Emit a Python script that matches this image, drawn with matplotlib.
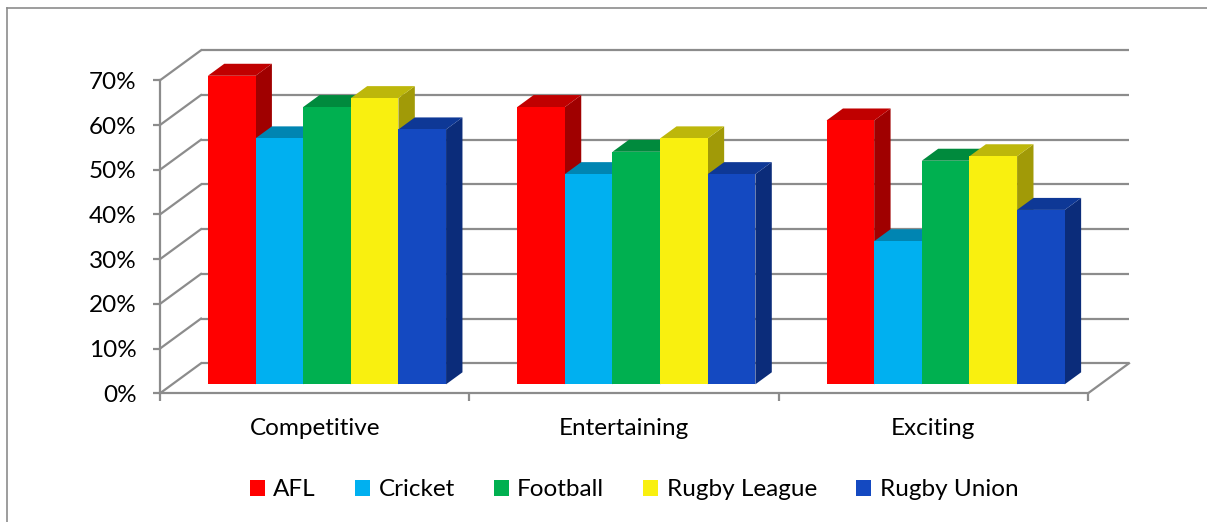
import matplotlib
matplotlib.use("Agg")
import matplotlib.pyplot as plt
from matplotlib.patches import Polygon, Patch
from matplotlib.lines import Line2D
from matplotlib.ticker import FuncFormatter

plt.rcParams['font.family'] = ['Lato', 'DejaVu Sans']

categories = ["Competitive", "Entertaining", "Exciting"]
series = ["AFL", "Cricket", "Football", "Rugby League", "Rugby Union"]
afl = [69, 62, 59]
cricket = [55, 47, 32]
football = [62, 52, 50]
rugby_league = [64, 55, 51]
rugby_union = [57, 47, 39]
values = [afl, cricket, football, rugby_league, rugby_union]
yticks = [0, 10, 20, 30, 40, 50, 60, 70]

front_colors = ["#FF0000", "#00B0F0", "#00B050", "#F9F00F", "#1449C1"]
top_colors = ["#C00000", "#0085B2", "#008A3D", "#BDB70B", "#0E3896"]
side_colors = ["#A00000", "#00719A", "#006F31", "#A19A07", "#0B2C7A"]
grid_c = "#8C8C8C"
FS = 17.5

W, H = 1207, 522
fig = plt.figure(figsize=(W / 100, H / 100), dpi=100)
x0px, y0px, x1px, y70px = 160, 393.3, 1088, 80.3
ax = fig.add_axes([x0px / W, (H - y0px) / H, (x1px - x0px) / W, (y0px - y70px) / H])
ax.set_xlim(0, 3)
ax.set_ylim(0, 70)
ax.patch.set_alpha(0)

pxx = (x1px - x0px) / 3.0
pxy = (y0px - y70px) / 70.0
DX = 41 / pxx
DY = 30 / pxy

# walls / gridlines
for v in yticks:
    ax.plot([DX, 3 + DX], [v + DY, v + DY], color=grid_c, lw=1.6, clip_on=False, zorder=1, solid_capstyle='butt')
    ax.plot([0, DX], [v, v + DY], color=grid_c, lw=1.6, clip_on=False, zorder=1)
ax.plot([3, 3 + DX], [0, DY], color=grid_c, lw=1.6, clip_on=False, zorder=1)

# bars
n = len(series)
bw = 0.154
f0, f1 = 0.3, 0.7
dDX = (f1 - f0) * DX
dDY = (f1 - f0) * DY
base = f0 * DY
for c in range(len(categories)):
    for i in range(n):
        v = values[i][c]
        xl = c + 0.5 - n / 2 * bw + i * bw + f0 * DX
        xr = xl + bw
        top = base + v
        z = 3 + c * 10 + i
        ax.add_patch(Polygon([(xr, base), (xr, top), (xr + dDX, top + dDY), (xr + dDX, base + dDY)],
                             closed=True, facecolor=side_colors[i], edgecolor='none', clip_on=False, zorder=z))
        ax.add_patch(Polygon([(xl, top), (xr, top), (xr + dDX, top + dDY), (xl + dDX, top + dDY)],
                             closed=True, facecolor=top_colors[i], edgecolor='none', clip_on=False, zorder=z))
        ax.bar(xl, v, width=bw, bottom=base, align='edge', color=front_colors[i],
               edgecolor='none', clip_on=False, zorder=z + 0.5)

# axes styling
for s in ['top', 'right']:
    ax.spines[s].set_visible(False)
for s in ['left', 'bottom']:
    ax.spines[s].set_color(grid_c)
    ax.spines[s].set_linewidth(1.6)
    ax.spines[s].set_zorder(2)
ax.set_yticks(yticks)
ax.yaxis.set_major_formatter(FuncFormatter(lambda v, p: f"{int(v)}%"))
ax.tick_params(axis='y', length=5, width=1.6, color=grid_c, pad=12, labelsize=FS, labelcolor='black')
ax.set_xticks([0, 1, 2, 3])
ax.set_xticklabels([])
ax.set_xticks([0.5, 1.5, 2.5], minor=True)
ax.set_xticklabels(categories, minor=True)
ax.tick_params(axis='x', which='major', length=6, width=1.6, color=grid_c)
ax.tick_params(axis='x', which='minor', length=0, pad=18, labelsize=FS)

# outer border (top and left)
fig.add_artist(Line2D([7 / W, 1.0], [1 - 8 / H, 1 - 8 / H], color="#8C8C8C", lw=1.2))
fig.add_artist(Line2D([7 / W, 7 / W], [0, 1 - 8 / H], color="#8C8C8C", lw=1.2))

handles = [Patch(facecolor=front_colors[i], edgecolor='none', label=series[i]) for i in range(n)]
fig.legend(handles=handles, loc='center', bbox_to_anchor=(634 / W, 1 - 490 / H), ncol=5,
           frameon=False, fontsize=FS, handlelength=0.62, handleheight=0.62,
           handletextpad=0.35, columnspacing=1.6)

fig.savefig("out.png", dpi=100)
